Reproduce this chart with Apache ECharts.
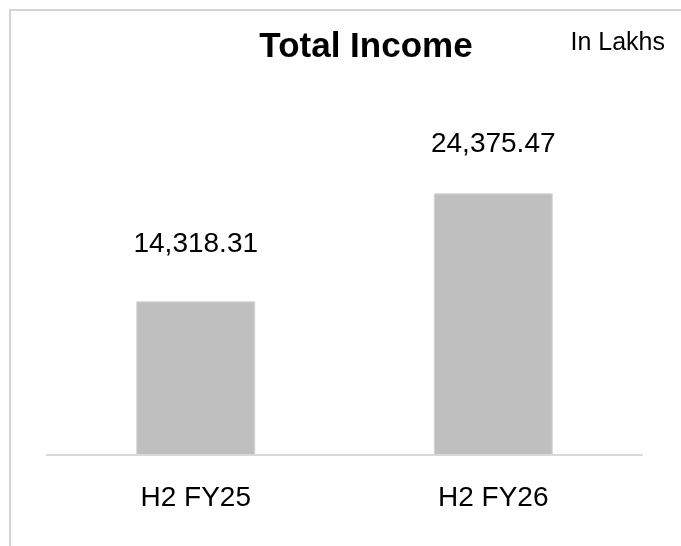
<!DOCTYPE html>
<html>
<head>
<meta charset="utf-8">
<script src="https://cdn.jsdelivr.net/npm/echarts@6/dist/echarts.min.js"></script>
<style>
  html, body { margin: 0; padding: 0; background: #fff; }
  #chart { width: 681px; height: 546px; }
</style>
</head>
<body>
<div id="chart"></div>
<script>
const categories = ['H2 FY25', 'H2 FY26']
const totalIncome = [14318.31, 24375.47]
const yMax = 30000

// labels were nudged by hand in the source, so gaps differ a bit
const labelGap = [43, 35]
const FONT = '"Liberation Sans", Arial, sans-serif'

const fmt = (v) => v.toLocaleString('en-IN', { minimumFractionDigits: 2, maximumFractionDigits: 2 })

const chart = echarts.init(document.getElementById('chart'), null, { renderer: 'canvas' })

chart.setOption({
  animation: false,
  backgroundColor: '#fff',
  textStyle: { fontFamily: FONT },
  title: [
    {
      text: 'Total Income',
      left: 361,
      top: 25,
      textAlign: 'center',
      textStyle: { fontFamily: FONT, fontSize: 35, fontWeight: 'bold', color: '#000' },
    },
    {
      text: 'In Lakhs',
      right: 11,
      top: 26,
      textStyle: { fontFamily: FONT, fontSize: 25, fontWeight: 'normal', color: '#000' },
    },
  ],
  graphic: [{
    type: 'rect',
    silent: true,
    shape: { x: 10, y: 10, width: 720, height: 600 },
    style: { fill: 'none', stroke: '#d4d4d4', lineWidth: 2 },
  }],
  grid: { left: 47, right: 39, top: 133, bottom: 91, containLabel: false },
  xAxis: {
    type: 'category',
    data: categories,
    axisLine: { lineStyle: { color: '#d9d9d9', width: 2 } },
    axisTick: { show: false },
    axisLabel: { color: '#000', fontSize: 28, fontFamily: FONT, margin: 29 },
  },
  yAxis: {
    type: 'value',
    min: 0,
    max: yMax,
    show: false,
    splitLine: { show: false },
  },
  series: [{
    type: 'bar',
    data: totalIncome.map((v, i) => ({ value: v, label: { distance: labelGap[i] } })),
    barWidth: '40%',
    itemStyle: { color: '#bfbfbf', borderColor: '#d6d6d6', borderWidth: 1 },
    label: {
      show: true,
      position: 'top',
      color: '#000',
      fontSize: 28,
      fontFamily: FONT,
      formatter: (p) => fmt(p.value),
    },
  }],
})
</script>
</body>
</html>
